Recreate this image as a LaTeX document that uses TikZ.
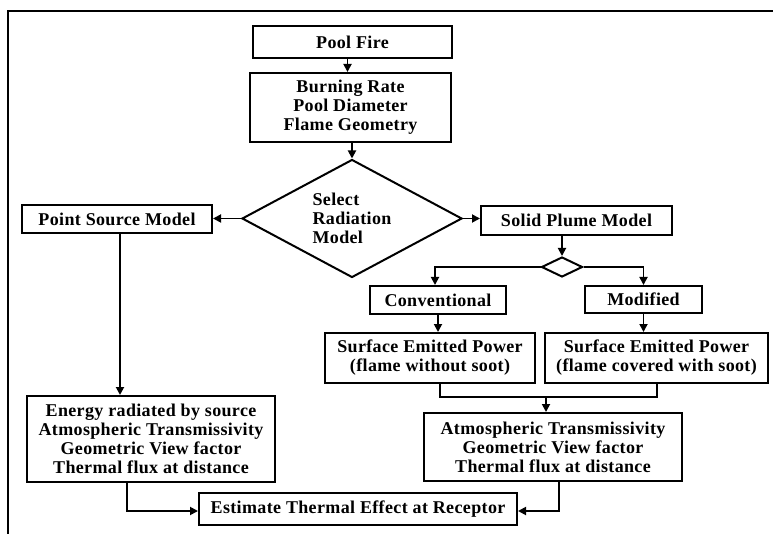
\documentclass[tikz,border=0pt]{standalone}
\usepackage{fontspec}
\setmainfont{Liberation Serif}[LetterSpace=2.0]
\usepackage{tikz}
\usetikzlibrary{positioning, shapes.geometric, arrows.meta}

\begin{document}
\begin{tikzpicture}[x=1pt, y=-1pt, line width=2pt,
    box/.style={rectangle, draw, line width=2pt, align=center, inner sep=2pt,
        font=\bfseries\fontsize{18}{19}\selectfont},
    choice/.style={diamond, draw, line width=2pt, inner sep=0pt, aspect=1.86},
    arr/.style={-{Triangle[length=8pt,width=8pt]}, line width=1.8pt}]
				\useasboundingbox (0,0) rectangle (773,534);
				% Cornice
				\draw (8,534) -- (8,11) -- (773,11);
				
				% Pool fire e parametri
				\node[box, minimum width=199pt, minimum height=32pt] (poolfire) at (352.5,42) {Pool Fire};
				\node[box, minimum width=201pt, minimum height=69pt] (params) at (350.5,107.5) {Burning Rate\\Pool Diameter\\Flame Geometry};
				
				% Scelta del modello
				\node[choice, minimum width=220pt, minimum height=118pt, align=left,
				      font=\bfseries\fontsize{18}{19}\selectfont] (select) at (352,218.5) {Select\\Radiation\\Model};
				\node[box, minimum width=190pt, minimum height=28pt] (point) at (117,219) {Point Source Model};
				\node[box, minimum width=191pt, minimum height=29pt] (solid) at (576.5,220.5) {Solid Plume Model};
				\node[choice, minimum width=41pt, minimum height=20pt] (split) at (562,267) {};
				
				% Ramo solid plume
				\node[box, minimum width=136pt, minimum height=28pt] (conv) at (438,300) {Conventional};
				\node[box, minimum width=117pt, minimum height=27pt] (mod) at (643.5,299.5) {Modified};
				\node[box, minimum width=210pt, minimum height=50pt] (sepa) at (430,358) {Surface Emitted Power\\(flame without soot)};
				\node[box, minimum width=223pt, minimum height=50pt] (sepb) at (656.5,358) {Surface Emitted Power\\(flame covered with soot)};
				\node[box, minimum width=258pt, minimum height=68pt] (atm) at (553,447) {Atmospheric Transmissivity\\Geometric View factor\\Thermal flux at distance};
				
				% Ramo point source
				\node[box, minimum width=248pt, minimum height=86pt] (energy) at (151,439) {Energy radiated by source\\Atmospheric Transmissivity\\Geometric View factor\\Thermal flux at distance};
				
				% Risultato
				\node[box, minimum width=318pt, minimum height=32pt] (estimate) at (358,509) {Estimate Thermal Effect at Receptor};
				\coordinate (join) at (546,397);
				
				% Connessioni
				\draw[arr] ([xshift=-5pt]poolfire.south) -- ([xshift=-5pt]poolfire.south |- params.north);
				\draw[arr] ([xshift=1.5pt]params.south) -- (select.north);
				\draw[arr] (select.west) -- (point.east |- select.west);
				\draw[arr] (select.east) -- (solid.west |- select.east);
				\draw[arr] (split.north |- solid.south) -- (split.north);
				\draw[arr] (split.west) -| ([xshift=-3pt]conv.north);
				\draw[arr] (split.east) -| (mod.north);
				\draw[arr] (conv.south) -- (conv.south |- sepa.north);
				\draw[arr] (mod.south) -- (mod.south |- sepb.north);
				\draw ([xshift=10pt]sepa.south) |- (join) -| (sepb.south);
				\draw[arr] (join) -- (join |- atm.north);
				\draw[arr] (point.south) ++(3pt,0) -- ([xshift=3pt]point.south |- energy.north);
				\draw[arr] ([xshift=-24pt]energy.south) |- ([yshift=-2pt]estimate.west);
				\draw[arr] ([xshift=6pt]atm.south) |- ([yshift=-2pt]estimate.east);
			\end{tikzpicture}
\end{document}
